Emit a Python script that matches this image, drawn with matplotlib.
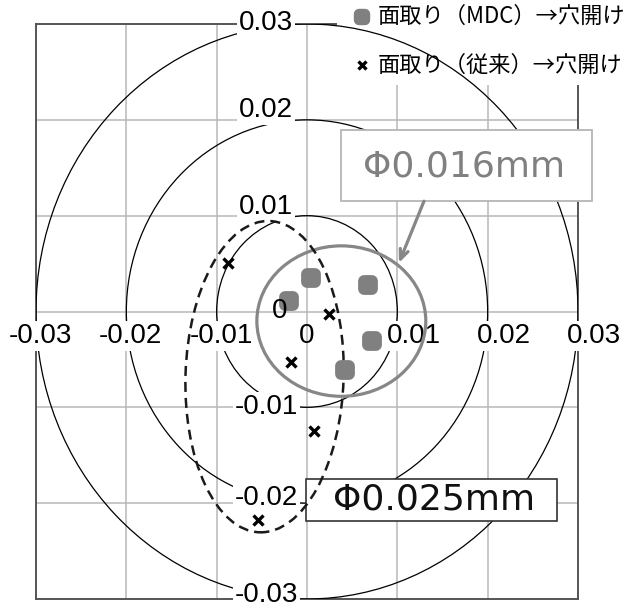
import matplotlib.pyplot as plt
from matplotlib.patches import Circle, Ellipse, Rectangle
from matplotlib.markers import MarkerStyle

plt.rcParams['font.family'] = ['Liberation Sans', 'Noto Sans CJK JP', 'DejaVu Sans']

# hole position error, MDC chamfer -> drilling (mm)
mdc_x = [0.0004, 0.0067, -0.0020, 0.0072, 0.0042]
mdc_y = [0.0035, 0.0028, 0.0011, -0.0031, -0.0061]

# hole position error, conventional chamfer -> drilling (mm)
conv_x = [-0.0088, 0.0024, -0.0018, 0.0008, -0.0054]
conv_y = [0.0051, -0.0003, -0.0053, -0.0125, -0.0218]

ticks = [-0.03, -0.02, -0.01, 0, 0.01, 0.02, 0.03]
tick_labels = ['-0.03', '-0.02', '-0.01', '0', '0.01', '0.02', '0.03']
rings = [0.01, 0.02, 0.03]

legend_labels = ['面取り（MDC）→穴開け', '面取り（従来）→穴開け']
mdc_spread = 'Φ0.016mm'
conv_spread = 'Φ0.025mm'

# spread envelopes: centre x, centre y, width, height
mdc_ell = (0.0038, -0.0010, 0.0187, 0.0157)
conv_ell = (-0.0047, -0.0068, 0.0175, 0.0325)

W, H = 635, 615
fig = plt.figure(figsize=(W / 100, H / 100), dpi=100)
ax = fig.add_axes([36 / W, 16 / H, 542 / W, 575 / H])
ax.set_xlim(-0.03, 0.03)
ax.set_ylim(-0.03, 0.03)
ax.set_xticks(ticks)
ax.set_yticks(ticks)
ax.tick_params(length=0, labelbottom=False, labelleft=False)
ax.set_axisbelow(True)
ax.grid(True, color='#b8b8b8', lw=1.1)
for s in ax.spines.values():
    s.set_color('#555555')
    s.set_linewidth(1.4)


def figxy(px, py):
    return px / W, 1 - py / H


# white area behind the legend
ax.add_patch(Rectangle(figxy(337, 85), (W - 337) / W, 85 / H, transform=fig.transFigure,
                       fc='white', ec='none', zorder=2.6, clip_on=False))

for r in rings:
    ax.add_patch(Circle((0, 0), r, fill=False, ec='black', lw=0.9, zorder=2.7))

lab_bbox = dict(fc='white', ec='none', pad=1.5)
vert_dy = {-0.03: 0.0004, -0.02: 0.0005, -0.01: 0.0, 0: 0.0, 0.01: 0.0009, 0.02: 0.001, 0.03: 0.0001}
for v, lab in zip(ticks, tick_labels):
    # labels along the horizontal axis
    dx = 0.0018 if v > 0 else (0.0005 if v < 0 else 0.0)
    ax.text(v + dx, -0.0026, lab, fontsize=20, ha='center', va='center',
            bbox=None if v == 0 else lab_bbox, zorder=6 if v == 0 else 3, clip_on=False)
    # labels along the vertical axis
    x = -0.003 if v == 0 else -0.0045
    ax.text(x, v + vert_dy[v], lab, fontsize=20, ha='center', va='center',
            bbox=None if v == 0 else lab_bbox, zorder=6 if v == 0 else 3, clip_on=False)

# spread annotation boxes
ax.add_patch(Rectangle((0.00373, 0.01158), 0.02779, 0.00734, fc='white', ec='#b5b5b5',
                       lw=1.3, zorder=3.5, clip_on=False))
ax.text(0.01744, 0.01508, mdc_spread, family='DejaVu Sans', fontsize=26, color='#808080',
        ha='center', va='center', zorder=3.6)
ax.add_patch(Rectangle((-0.00008, -0.02181), 0.02776, 0.00438, fc='white', ec='#333333',
                       lw=1.2, zorder=3.5, clip_on=False))
ax.text(0.01411, -0.01962, conv_spread, family='DejaVu Sans', fontsize=26, color='#111111',
        ha='center', va='center', zorder=3.6)

cx, cy, w, h = mdc_ell
ax.add_patch(Ellipse((cx, cy), w, h, fill=False, ec='#878787', lw=2.3, zorder=4))
cx, cy, w, h = conv_ell
ax.add_patch(Ellipse((cx, cy), w, h, angle=-2, fill=False, ec='#1a1a1a', lw=1.8,
                     ls=(0, (4, 2.4)), zorder=4))

ax.annotate('', xy=(0.01018, 0.00508), xytext=(0.01295, 0.01151),
            arrowprops=dict(arrowstyle='->,head_length=0.7,head_width=0.3', color='#878787',
                            lw=2.3, shrinkA=0, shrinkB=0), zorder=4.5)

rsq = MarkerStyle('s', joinstyle='round')
ax.plot(mdc_x, mdc_y, ls='none', marker=rsq, ms=5.5, mew=8.5, mfc='#808080', mec='#808080', zorder=5)
ax.plot(conv_x, conv_y, ls='none', marker='x', ms=7, mew=2.4, color='black', zorder=5)

# legend
lx, ly1 = figxy(361.7, 16.7)
_, ly2 = figxy(361.7, 65)
ax.plot([lx], [ly1], transform=fig.transFigure, clip_on=False, ls='none', marker=rsq,
        ms=4, mew=7.5, mfc='#808080', mec='#808080', zorder=5)
ax.plot([lx], [ly2], transform=fig.transFigure, clip_on=False, ls='none', marker='x',
        ms=6, mew=2.4, color='black', zorder=5)
tx = 378 / W
ax.text(tx, ly1, legend_labels[0], transform=fig.transFigure, family=['Noto Sans CJK JP'],
        fontsize=16, ha='left', va='center', zorder=5)
ax.text(tx, ly2, legend_labels[1], transform=fig.transFigure, family=['Noto Sans CJK JP'],
        fontsize=16, ha='left', va='center', zorder=5)

fig.savefig('out.png', dpi=100)
